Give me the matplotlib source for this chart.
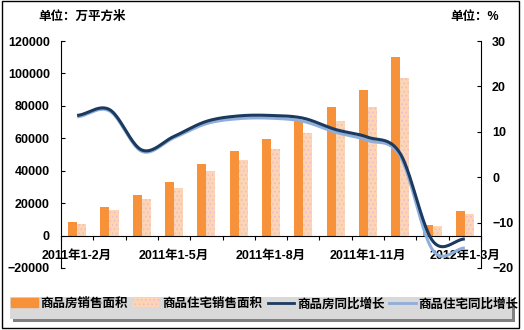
import numpy as np
import matplotlib
matplotlib.use('Agg')
import matplotlib.pyplot as plt
from matplotlib.patches import Rectangle, Patch
from matplotlib.lines import Line2D

plt.rcParams['font.family'] = ['Liberation Sans', 'Noto Sans CJK SC']
plt.rcParams['font.weight'] = 'bold'
plt.rcParams['hatch.linewidth'] = 0.6

periods = ['2011年1-2月', '2011年1-3月', '2011年1-4月', '2011年1-5月', '2011年1-6月',
           '2011年1-7月', '2011年1-8月', '2011年1-9月', '2011年1-10月', '2011年1-11月',
           '2011年1-12月', '2012年1-2月', '2012年1-3月']
# 销售面积（万平方米）
area_all = [8200, 17600, 24900, 33100, 44100, 52200, 59400, 70600, 79400, 89900, 109900, 6800, 15200]
area_house = [7000, 15700, 22500, 29300, 39800, 46600, 53400, 63300, 70700, 79400, 97400, 5800, 13200]
# 同比增长（%）
growth_all = [13.6, 14.9, 6.0, 9.0, 12.3, 13.5, 13.6, 13.0, 10.5, 8.8, 5.2, -14.0, -13.6]
growth_house = [13.3, 14.6, 5.7, 8.7, 11.8, 12.9, 13.0, 12.3, 9.9, 8.1, 4.6, -16.0, -15.6]
shown = [0, 3, 6, 9, 12]

c_all = '#F7923A'
c_house = '#FCD5B4'
c_line = '#1B3A5E'
c_line2 = '#8EAEDB'


def smooth(y, n=24):
    # Catmull-Rom curve through every point, like a smoothed line in a spreadsheet chart
    y = np.asarray(y, float)
    p = np.concatenate([[y[0]], y, [y[-1]]])
    t = np.linspace(0, 1, n, endpoint=False)
    xs, ys = [], []
    for i in range(len(y) - 1):
        p0, p1, p2, p3 = p[i:i + 4]
        m1 = (p2 - p0) / 2
        m2 = (p3 - p1) / 2
        h = ((2 * t**3 - 3 * t**2 + 1) * p1 + (t**3 - 2 * t**2 + t) * m1
             + (-2 * t**3 + 3 * t**2) * p2 + (t**3 - t**2) * m2)
        xs.append(i + t)
        ys.append(h)
    xs.append([len(y) - 1])
    ys.append([y[-1]])
    return np.concatenate(xs), np.concatenate(ys)


fig = plt.figure(figsize=(5.24, 3.30), dpi=100)
ax = fig.add_axes([61 / 524, 62 / 330, 420 / 524, 227 / 330])
x = np.arange(len(periods))
w = 0.28
ax.bar(x - w / 2, area_all, w, color=c_all, linewidth=0)
ax.bar(x + w / 2, area_house, w, color=c_house, edgecolor='#F0B8CC', hatch='....', linewidth=0)

ax.set_xlim(-0.5, len(periods) - 0.5)
ax.set_ylim(-20000, 120000)
ax.set_yticks(np.arange(-20000, 120001, 20000))
ax.tick_params(axis='y', direction='in', length=3, pad=8, labelsize=9)

ax.spines['top'].set_visible(False)
ax.spines['right'].set_visible(False)
ax.spines['bottom'].set_position(('data', 0))
ax.set_xticks(np.arange(-0.5, len(periods), 1.0))
ax.set_xticklabels([])
ax.tick_params(axis='x', which='major', direction='out', length=3)
ax.set_xticks(shown, minor=True)
ax.set_xticklabels([periods[i] for i in shown], minor=True)
ax.tick_params(axis='x', which='minor', length=0, pad=10, labelsize=9)

ax2 = ax.twinx()
ax2.set_ylim(-20, 30)
ax2.set_yticks(np.arange(-20, 31, 10))
ax2.tick_params(axis='y', direction='in', length=3, pad=8, labelsize=9)
for s in ['top', 'bottom', 'left']:
    ax2.spines[s].set_visible(False)
sx, sy = smooth(growth_house)
ax2.plot(sx, sy, color=c_line2, lw=2.2, solid_capstyle='butt')
sx, sy = smooth(growth_all)
ax2.plot(sx, sy, color=c_line, lw=2.2, solid_capstyle='butt')

fig.text(38 / 524, 1 - 17 / 330, '单位：万平方米', fontsize=9, va='center', ha='left')
fig.text(499 / 524, 1 - 17 / 330, '单位：%', fontsize=9, va='center', ha='right')

# legend box with drop shadow
fig.patches.append(Rectangle((13 / 524, 8 / 330), 502 / 524, 23 / 330, transform=fig.transFigure,
                             facecolor='#808080', edgecolor='none', zorder=0))
fig.patches.append(Rectangle((10 / 524, 11 / 330), 502 / 524, 22 / 330, transform=fig.transFigure,
                             facecolor='#D9D9D9', edgecolor='none', zorder=1))
handles = [Patch(color=c_all), Patch(facecolor=c_house, edgecolor='#F0B8CC', hatch='....', linewidth=0),
           Line2D([], [], color=c_line, lw=2), Line2D([], [], color=c_line2, lw=2)]
labels = ['商品房销售面积', '商品住宅销售面积', '商品房同比增长', '商品住宅同比增长']
fig.legend(handles, labels, loc='center', bbox_to_anchor=(265 / 524, 1 - 304 / 330), ncol=4,
           frameon=False, fontsize=9, handlelength=2.1, handletextpad=0.25, columnspacing=0.4,
           borderpad=0, borderaxespad=0)

fig.patches.append(Rectangle((2 / 524, 2 / 330), 517 / 524, 327 / 330, transform=fig.transFigure,
                             facecolor='none', edgecolor='black', linewidth=1))

fig.savefig('out.png', dpi=100)
